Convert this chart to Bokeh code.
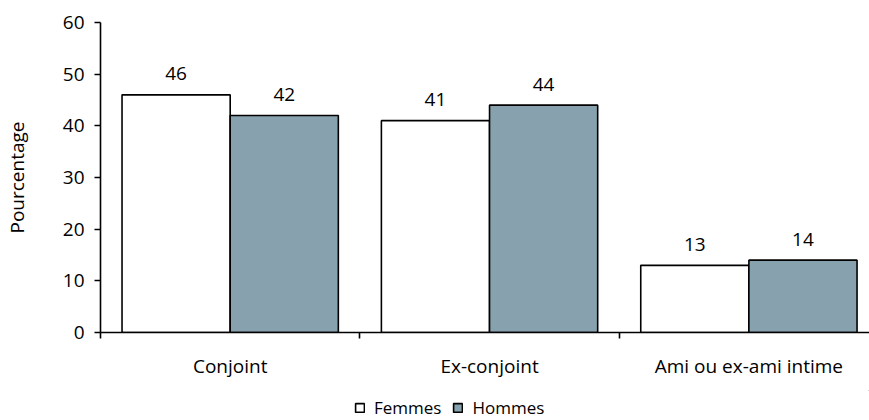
from bokeh.plotting import figure
from bokeh.layouts import column
from bokeh.models import ColumnDataSource, FixedTicker, Range1d, Legend, LegendItem
from bokeh.core.properties import value
from bokeh.embed import file_html
from bokeh.resources import INLINE

# Data
categories = ["Conjoint", "Ex-conjoint", "Ami ou ex-ami intime"]
femmes = [46, 41, 13]
hommes = [42, 44, 14]
series_names = ["Femmes", "Hommes"]
y_ticks = [0, 10, 20, 30, 40, 50, 60]

FONT = "Open Sans"
FS = "19px"
GREY = "#87a2ae"
FILLS = ["white", GREY]

n = len(categories)
bar_w = 0.417
centers = [i + 0.5 for i in range(n)]
fem_x = [c - bar_w / 2 for c in centers]
hom_x = [c + bar_w / 2 for c in centers]

src_f = ColumnDataSource(dict(x=fem_x, top=femmes, lbl=[str(v) for v in femmes]))
src_h = ColumnDataSource(dict(x=hom_x, top=hommes, lbl=[str(v) for v in hommes]))

p = figure(width=869, height=390, output_backend="svg", toolbar_location=None,
           x_range=Range1d(0, 2.965), y_range=Range1d(0, 60),
           min_border_left=98, min_border_right=0, min_border_top=22, min_border_bottom=58)
p.outline_line_color = None
p.xgrid.visible = False
p.ygrid.visible = False
p.background_fill_color = "white"
p.border_fill_color = "white"

p.vbar(x="x", top="top", bottom=0, width=bar_w, source=src_f,
       fill_color=FILLS[0], line_color="black", line_width=1.6)
p.vbar(x="x", top="top", bottom=0, width=bar_w, source=src_h,
       fill_color=FILLS[1], line_color="black", line_width=1.6)

for src in (src_f, src_h):
    p.text(x="x", y="top", text="lbl", source=src, text_align="center",
           text_baseline="middle", y_offset=-21, text_font=value(FONT),
           text_font_size=FS, text_color="black")

# y axis
yax = p.yaxis[0]
yax.ticker = FixedTicker(ticks=y_ticks)
yax.minor_tick_line_color = None
yax.major_tick_in = 0
yax.major_tick_out = 6
yax.major_tick_line_width = 1.6
yax.axis_line_width = 1.6
yax.major_label_text_font = FONT
yax.major_label_text_font_size = FS
yax.major_label_text_color = "black"
yax.major_label_standoff = 10
yax.axis_label = "Pourcentage"
yax.axis_label_text_font = FONT
yax.axis_label_text_font_size = FS
yax.axis_label_text_font_style = "normal"
yax.axis_label_text_color = "black"
yax.axis_label_standoff = 30

# x axis: labels at category centers, ticks at category boundaries
xax = p.xaxis[0]
xax.ticker = FixedTicker(ticks=centers, minor_ticks=list(range(n + 1)))
xax.major_label_overrides = {c: name for c, name in zip(centers, categories)}
xax.major_tick_out = 0
xax.major_tick_in = 0
xax.minor_tick_out = 6
xax.minor_tick_in = 0
xax.minor_tick_line_color = "black"
xax.minor_tick_line_width = 1.6
xax.axis_line_width = 1.6
xax.major_label_text_font = FONT
xax.major_label_text_font_size = FS
xax.major_label_text_color = "black"
xax.major_label_standoff = 14

# Legend strip under the chart; its swatch renderers sit outside the visible range
lg = figure(width=869, height=30, output_backend="svg", toolbar_location=None,
            x_axis_location=None, y_axis_location=None,
            x_range=Range1d(0, 1), y_range=Range1d(0, 1), min_border=0)
lg.outline_line_color = None
lg.xgrid.visible = False
lg.ygrid.visible = False
swatches = [lg.vbar(x=[50], top=[50], bottom=[49], width=0.1, fill_color=c,
                    line_color="black", line_width=1.6)
            for c in FILLS]
legend = Legend(items=[LegendItem(label=name, renderers=[r])
                       for name, r in zip(series_names, swatches)],
                orientation="horizontal", location=(254, 1),
                glyph_width=11, glyph_height=11, label_height=14,
                label_standoff=9, spacing=11, padding=0, margin=0,
                border_line_color=None, background_fill_alpha=0,
                label_text_font=FONT, label_text_font_size="17px",
                label_text_color="black")
lg.add_layout(legend, "center")

open("out.html", "w").write(file_html(column(p, lg), INLINE))
